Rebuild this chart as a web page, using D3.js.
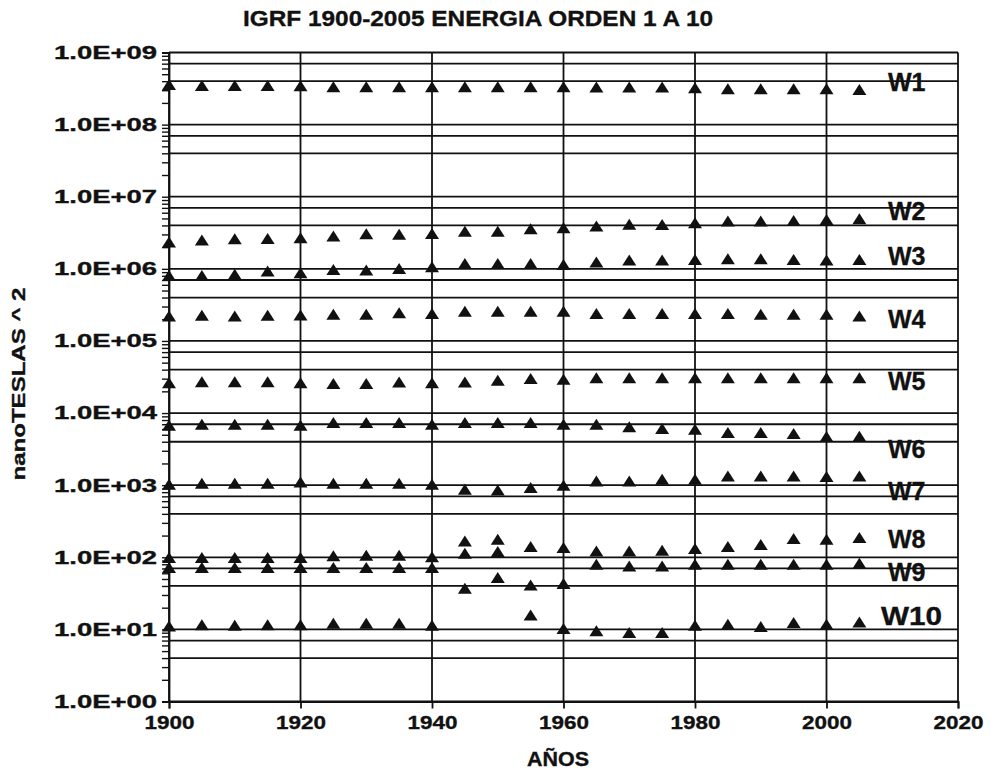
<!DOCTYPE html>
<html lang="es">
<head>
  <meta charset="UTF-8">
  <title>IGRF energia</title>
  <script src="https://cdn.jsdelivr.net/npm/d3@7"></script>
  <style>
    body { margin: 0; background: #fff; }
    text { font-family: "Liberation Sans", Arial, sans-serif; font-weight: bold; fill: #111;
           stroke: #111; stroke-width: 0.35px; }
  </style>
</head>
<body>
  <svg width="991" height="769"></svg>

  <script>
    // años de los modelos IGRF / DGRF
    const years = [1900, 1905, 1910, 1915, 1920, 1925, 1930, 1935, 1940, 1945, 1950,
                   1955, 1960, 1965, 1970, 1975, 1980, 1985, 1990, 1995, 2000, 2005];

    // energia por orden (nT^2)
    const w1 = [3.55e8, 3.43e8, 3.43e8, 3.43e8, 3.40e8, 3.29e8, 3.29e8, 3.29e8, 3.29e8, 3.29e8, 3.29e8,
                3.29e8, 3.29e8, 3.27e8, 3.27e8, 3.27e8, 3.19e8, 3.09e8, 3.09e8, 3.09e8, 3.09e8, 3.03e8];
    const w2 = [2.31e6, 2.47e6, 2.58e6, 2.60e6, 2.66e6, 2.80e6, 3.02e6, 2.96e6, 3.05e6, 3.28e6, 3.28e6,
                3.54e6, 3.66e6, 3.85e6, 4.07e6, 4.04e6, 4.30e6, 4.52e6, 4.52e6, 4.62e6, 4.77e6, 4.88e6];
    const w3 = [7.98e5, 7.98e5, 8.25e5, 9.16e5, 8.70e5, 9.67e5, 9.46e5, 9.98e5, 1.05e6, 1.17e6, 1.17e6,
                1.17e6, 1.13e6, 1.22e6, 1.30e6, 1.30e6, 1.33e6, 1.36e6, 1.36e6, 1.33e6, 1.30e6, 1.33e6];
    const w4 = [2.18e5, 2.23e5, 2.18e5, 2.23e5, 2.25e5, 2.30e5, 2.30e5, 2.43e5, 2.37e5, 2.53e5, 2.53e5,
                2.53e5, 2.53e5, 2.37e5, 2.37e5, 2.37e5, 2.37e5, 2.37e5, 2.30e5, 2.30e5, 2.30e5, 2.18e5];
    const w5 = [2.60e4, 2.68e4, 2.68e4, 2.68e4, 2.60e4, 2.52e4, 2.52e4, 2.65e4, 2.60e4, 2.65e4, 2.80e4,
                2.96e4, 2.89e4, 3.05e4, 3.05e4, 3.05e4, 3.05e4, 3.05e4, 3.05e4, 3.05e4, 3.05e4, 3.05e4];
    const w6 = [6.65e3, 6.87e3, 6.87e3, 6.87e3, 6.65e3, 7.26e3, 7.26e3, 7.26e3, 6.87e3, 7.26e3, 7.26e3,
                7.26e3, 6.87e3, 6.87e3, 6.38e3, 6.00e3, 5.86e3, 5.27e3, 5.27e3, 5.11e3, 4.64e3, 4.70e3];
    const w7 = [1010, 1050, 1050, 1050, 1090, 1050, 1050, 1050, 1010, 864, 845,
                912, 980, 1120, 1120, 1190, 1190, 1320, 1320, 1320, 1300, 1320];
    const w8 = [97.7, 97.7, 97.7, 97.7, 97.7, 103, 105, 105, 100, 166, 175,
                139, 134, 120, 120, 123, 130, 139, 148, 179, 175, 185];
    const w9 = [71, 71, 71, 71, 71, 71, 71, 71, 71, 112, 118,
                40.7, 42.6, 78.8, 74.7, 74.7, 78.8, 78.8, 78.8, 78.8, 78.8, 81.5];
    const w10 = [11.0, 11.4, 11.2, 11.4, 11.4, 12.0, 12.0, 12.0, 11.2, 36.6, 51.6,
                 15.6, 10.1, 9.4, 8.9, 8.9, 11.2, 11.6, 10.8, 12.3, 11.6, 12.5];

    const seriesNames = ["W1", "W2", "W3", "W4", "W5", "W6", "W7", "W8", "W9", "W10"];
    const seriesValues = [w1, w2, w3, w4, w5, w6, w7, w8, w9, w10];
    // desplazamiento vertical de cada etiqueta respecto al ultimo punto (px)
    const labelDy = [-8, -8, -4, 2, 3, 12, 15, 1, 8, -6];

    const xTicks = [1900, 1920, 1940, 1960, 1980, 2000, 2020];
    const yTicks = [1e0, 1e1, 1e2, 1e3, 1e4, 1e5, 1e6, 1e7, 1e8, 1e9];
    const yTickLabels = ["1.0E+00", "1.0E+01", "1.0E+02", "1.0E+03", "1.0E+04",
                         "1.0E+05", "1.0E+06", "1.0E+07", "1.0E+08", "1.0E+09"];
    const gridFactors = [1, 0.7, 0.4];

    const margin = { top: 52.5, right: 33, bottom: 67.5, left: 169 };
    const svgWidth = 991, svgHeight = 769;
    const width = svgWidth - margin.left - margin.right;
    const height = svgHeight - margin.top - margin.bottom;

    const svg = d3.select("svg");
    const g = svg.append("g").attr("transform", `translate(${margin.left},${margin.top})`);

    const x = d3.scaleLinear().domain([1900, 2020]).range([0, width]);
    const y = d3.scaleLog().domain([1, 1e9]).range([height, 0]);

    // ajusta el ancho del texto como en la figura escaneada
    function fitWidth(sel, w) {
      sel.attr("textLength", w).attr("lengthAdjust", "spacingAndGlyphs");
    }

    // lineas horizontales: 10^n, 0.7*10^n, 0.4*10^n
    const hLines = [];
    yTicks.forEach(t => gridFactors.forEach(f => {
      const v = t * f;
      if (v >= 1 && v <= 1e9) hLines.push(v);
    }));
    g.append("g").selectAll("line").data(hLines).join("line")
      .attr("x1", 0).attr("x2", width)
      .attr("y1", d => y(d)).attr("y2", d => y(d))
      .attr("stroke", "#111").attr("stroke-width", 1.8);

    // lineas verticales
    g.append("g").selectAll("line").data(xTicks).join("line")
      .attr("x1", d => x(d)).attr("x2", d => x(d))
      .attr("y1", 0).attr("y2", height)
      .attr("stroke", "#111").attr("stroke-width", 1.8);

    // eje Y logaritmico
    const yAxis = g.append("g")
      .call(d3.axisLeft(y).tickSize(7).tickPadding(5)
        .tickFormat(d => {
          const i = yTicks.indexOf(d);
          return i >= 0 ? yTickLabels[i] : "";
        }));
    yAxis.select(".domain").attr("stroke", "#111").attr("stroke-width", 1.8);
    yAxis.selectAll(".tick line").attr("stroke", "#111").attr("stroke-width", 1.4);
    yAxis.selectAll(".tick text")
      .style("font-size", "18.5px")
      .attr("fill", "#111")
      .each(function () { if (this.textContent) fitWidth(d3.select(this), 103); });

    // eje X
    const xAxis = g.append("g")
      .attr("transform", `translate(0,${height})`)
      .call(d3.axisBottom(x).tickValues(xTicks).tickFormat(d3.format("d")).tickSize(7).tickPadding(7));
    xAxis.select(".domain").attr("stroke", "#111").attr("stroke-width", 1.8);
    xAxis.selectAll(".tick line").attr("stroke", "#111").attr("stroke-width", 1.8);
    xAxis.selectAll(".tick text").style("font-size", "19px").attr("fill", "#111")
      .call(fitWidth, 50);

    // puntos (triangulos)
    const tri = "M0,-6L7,5L-7,5Z";
    seriesValues.forEach((vals, k) => {
      g.append("g").selectAll("path").data(vals).join("path")
        .attr("d", tri)
        .attr("transform", (d, i) => `translate(${x(years[i])},${y(d)})`)
        .attr("fill", "#111");
    });

    // etiquetas W1..W10
    seriesNames.forEach((name, k) => {
      const last = seriesValues[k][seriesValues[k].length - 1];
      const t = g.append("text")
        .attr("x", x(2020) - (name === "W10" ? 77 : 70))
        .attr("y", y(last) + labelDy[k])
        .attr("dy", "0.36em")
        .style("font-size", "25px")
        .text(name);
      if (name === "W10") fitWidth(t, 61);
    });

    // titulo y rotulos
    svg.append("text")
      .attr("x", 478).attr("y", 26)
      .attr("text-anchor", "middle")
      .style("font-size", "22px")
      .text("IGRF 1900-2005 ENERGIA ORDEN 1 A 10")
      .call(fitWidth, 470);

    svg.append("text")
      .attr("x", 558).attr("y", 766)
      .attr("text-anchor", "middle")
      .style("font-size", "20px")
      .text("AÑOS")
      .call(fitWidth, 62);

    svg.append("text")
      .attr("transform", "translate(25,384) rotate(-90)")
      .attr("text-anchor", "middle")
      .style("font-size", "19px")
      .text("nanoTESLAS ^ 2")
      .call(fitWidth, 193);
  </script>
</body>
</html>
